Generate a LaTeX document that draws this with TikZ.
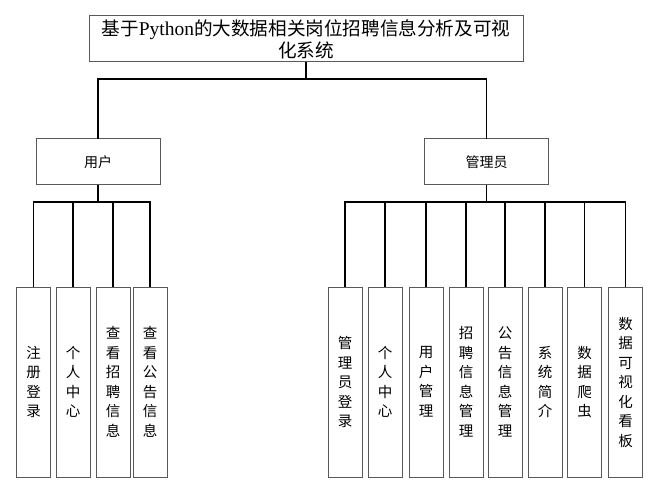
\documentclass[tikz,border=0pt]{standalone}
\usepackage{fontspec}
\setmainfont{Liberation Serif}
\newfontfamily\cjk{Noto Sans CJK SC}
\usetikzlibrary{positioning}

\begin{document}
\begin{tikzpicture}[x=1pt,y=-1pt,semithick]
  \tikzstyle{every node}=[inner sep=0pt,outer sep=0pt]
  \tikzstyle{box}=[draw=black!65,line width=1pt,fill=white]
  \tikzstyle{topbox}=[box,minimum width=434pt,minimum height=46pt,
                      align=center,font=\cjk\fontsize{18.6}{22}\selectfont]
  \tikzstyle{rolebox}=[box,minimum width=124pt,minimum height=46pt,
                       font=\cjk\fontsize{14}{16}\selectfont]
  \tikzstyle{leaf}=[box,minimum width=34pt,minimum height=190pt,anchor=north,
                    align=center,font=\cjk\fontsize{14.5}{19.5}\selectfont]
  \tikzstyle{wire}=[draw=black,line width=1.3pt]

  \useasboundingbox (0,0) rectangle (663,486);

  \node[topbox] (T) at (306,39) {基于\textrm{\fontsize{19.5}{22}\selectfont Python}的大数据相关岗位招聘信息分析及可视\\化系统};
  \node[rolebox] (U) at (98,162) {用户};
  \node[rolebox] (A) at (486.5,162) {管理员};

  % user side
  \node[leaf] (U1) at (33.5,287) {注\\册\\登\\录};
  \node[leaf] (U2) at (73,287) {个\\人\\中\\心};
  \node[leaf] (U3) at (113,287) {查\\看\\招\\聘\\信\\息};
  \node[leaf] (U4) at (150,287) {查\\看\\公\\告\\信\\息};

  % admin side
  \node[leaf] (A1) at (345,287) {管\\理\\员\\登\\录};
  \node[leaf] (A2) at (385,287) {个\\人\\中\\心};
  \node[leaf] (A3) at (426,287) {用\\户\\管\\理};
  \node[leaf] (A4) at (466,287) {招\\聘\\信\\息\\管\\理};
  \node[leaf] (A5) at (505,287) {公\\告\\信\\息\\管\\理};
  \node[leaf] (A6) at (545,287) {系\\统\\简\\介};
  \node[leaf] (A7) at (584.5,287) {数\\据\\爬\\虫};
  \node[leaf] (A8) at (625.5,287) {数\\据\\可\\视\\化\\看\\板};

  \coordinate (tbus) at (306,79);
  \coordinate (ubus) at (98,202);
  \coordinate (abus) at (486.5,202);

  \path[wire] (T) -- (tbus)
              (tbus) -| (U)
              (tbus) -| (A)
              (U) -- (ubus)
              (A) -- (abus);
  \foreach \n in {U1,U2,U3,U4}
    \path[wire] (ubus) -| (\n);
  \foreach \n in {A1,A2,A3,A4,A5,A6,A7,A8}
    \path[wire] (abus) -| (\n);
\end{tikzpicture}
\end{document}
